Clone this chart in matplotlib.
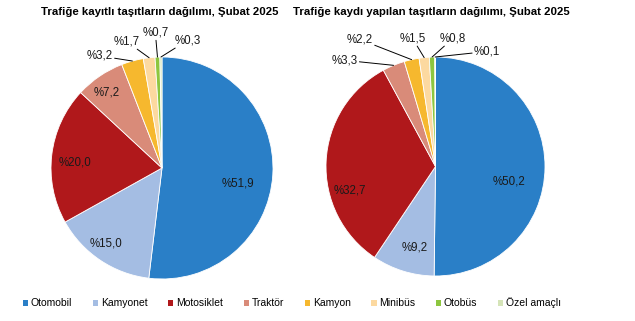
import numpy as np
import matplotlib
matplotlib.use("Agg")
import matplotlib.pyplot as plt
from matplotlib.patches import Patch

plt.rcParams['font.family'] = ['Liberation Sans', 'DejaVu Sans']

# data
categories = ['Otomobil', 'Kamyonet', 'Motosiklet', 'Traktör', 'Kamyon',
              'Minibüs', 'Otobüs', 'Özel amaçlı']
colors = ['#2a7fc7', '#a4bde3', '#b0181b', '#d98b79', '#f6b82e',
          '#fcd9a0', '#8dc63f', '#d5e4b8']

left_title = 'Trafiğe kayıtlı taşıtların dağılımı, Şubat 2025'
left_vals = [51.9, 15.0, 20.0, 7.2, 3.2, 1.7, 0.7, 0.3]

right_title = 'Trafiğe kaydı yapılan taşıtların dağılımı, Şubat 2025'
right_vals = [50.2, 9.2, 32.7, 3.3, 2.2, 1.5, 0.8, 0.1]

# label positions (pie radius = 1)
left_pos = [(0.68, -0.14), (-0.50, -0.68), (-0.78, 0.05), (-0.50, 0.68),
            (-0.56, 1.01), (-0.32, 1.14), (-0.06, 1.22), (0.23, 1.15)]
right_pos = [(0.67, -0.14), (-0.19, -0.74), (-0.78, -0.22), (-0.83, 0.97),
             (-0.69, 1.16), (-0.21, 1.17), (0.16, 1.17), (0.47, 1.05)]
n_inside_left = 4
n_inside_right = 3

W, H = 635, 321
fig = plt.figure(figsize=(W / 100, H / 100), dpi=100)


def draw_pie(cx, cy, r, vals, pos, n_inside, title, tx):
    ax = fig.add_axes([(cx - r) / W, (H - cy - r) / H, 2 * r / W, 2 * r / H])
    wedges, _ = ax.pie(vals, colors=colors, startangle=90, counterclock=False,
                       wedgeprops=dict(edgecolor='white', linewidth=0.6))
    ax.set_xlim(-1, 1)
    ax.set_ylim(-1, 1)
    ax.set_aspect('equal')
    ax.axis('off')
    for i, (w, v) in enumerate(zip(wedges, vals)):
        lab = '%' + f'{v:.1f}'.replace('.', ',')
        if i < n_inside:
            ax.text(pos[i][0], pos[i][1], lab, ha='center', va='center',
                    fontsize=8.3, color='#1a1a1a')
        else:
            ang = np.deg2rad((w.theta1 + w.theta2) / 2)
            ax.annotate(lab, xy=(np.cos(ang), np.sin(ang)), xytext=pos[i],
                        ha='center', va='center', fontsize=8.3, color='#1a1a1a',
                        annotation_clip=False,
                        bbox=dict(boxstyle='square,pad=0.15', fc='none', ec='none'),
                        arrowprops=dict(arrowstyle='-', color='black', lw=0.7,
                                        shrinkA=0, shrinkB=0))
    fig.text(tx / W, 1 - 12 / H, title, ha='center', va='center',
             fontsize=8.2, fontweight='bold')
    return wedges


draw_pie(162, 168, 111, left_vals, left_pos, n_inside_left, left_title, 160)
draw_pie(435.5, 166.5, 109.5, right_vals, right_pos, n_inside_right, right_title, 431)

handles = [Patch(facecolor=c, edgecolor='none', label=l) for c, l in zip(colors, categories)]
fig.legend(handles=handles, ncol=8, loc='center', bbox_to_anchor=(0.46, 1 - 303 / H),
           frameon=False, handlelength=0.5, handleheight=0.5, handletextpad=0.25,
           columnspacing=2.0, prop=dict(family=['Liberation Sans'], size=7.5))

fig.savefig('out.png', dpi=100, facecolor='white')
